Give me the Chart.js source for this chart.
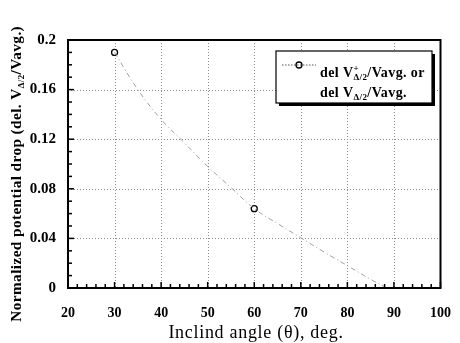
<!DOCTYPE html>
<html>
<head>
<meta charset="utf-8">
<script src="https://cdn.jsdelivr.net/npm/chart.js@4/dist/chart.umd.min.js"></script>
<style>
  html, body { margin: 0; padding: 0; background: #fff; }
  #wrap { width: 460px; height: 343px; position: relative; }
</style>
</head>
<body>
<div id="wrap"><canvas id="c"></canvas></div>
<script>
// measured points
const angles = [30, 60];
const drops = [0.19, 0.064];

// fitted curve
const fitAngles = [30, 35, 40, 45, 50, 55, 60, 65, 70, 75, 80, 85, 88];
const fitDrops = [0.19, 0.16, 0.136, 0.117, 0.098, 0.081, 0.064, 0.052, 0.0405, 0.029, 0.018, 0.007, 0.001];

const xTicks = [20, 30, 40, 50, 60, 70, 80, 90, 100];
const yTicks = [0, 0.04, 0.08, 0.12, 0.16, 0.2];

const SERIF = '"Liberation Serif", "DejaVu Serif", serif';

// draws text pieces: [text, 'n'|'sub'|'supsub'] starting at x, baseline y
function drawRich(ctx, parts, x, y, size, bold) {
  const w = bold ? 'bold ' : '';
  let cx = x;
  parts.forEach(p => {
    const [t, kind] = p;
    if (kind === 'n') {
      ctx.font = w + size + 'px ' + SERIF;
      ctx.fillText(t, cx, y);
      cx += ctx.measureText(t).width;
    } else if (kind === 'sub') {
      ctx.font = w + Math.round(size * 0.62) + 'px ' + SERIF;
      ctx.fillText(t, cx, y + size * 0.22);
      cx += ctx.measureText(t).width;
    } else if (kind === 'supsub') {
      ctx.font = w + Math.round(size * 0.62) + 'px ' + SERIF;
      ctx.fillText('+', cx, y - size * 0.42);
      ctx.fillText(t, cx, y + size * 0.22);
      cx += ctx.measureText(t).width;
    }
  });
  return cx - x;
}

function richWidth(ctx, parts, size, bold) {
  const w = bold ? 'bold ' : '';
  let total = 0;
  parts.forEach(p => {
    const small = p[1] !== 'n';
    ctx.font = w + (small ? Math.round(size * 0.62) : size) + 'px ' + SERIF;
    total += ctx.measureText(p[0]).width;
  });
  return total;
}

const decor = {
  id: 'decor',
  beforeDatasetsDraw(chart) {
    const { ctx, chartArea: a, scales: { x, y } } = chart;
    ctx.save();
    // dotted grid at major ticks
    ctx.strokeStyle = '#8a8a8a';
    ctx.lineWidth = 1;
    ctx.setLineDash([1, 2]);
    xTicks.slice(1, -1).forEach(v => {
      const px = Math.round(x.getPixelForValue(v)) + 0.5;
      ctx.beginPath(); ctx.moveTo(px, a.top); ctx.lineTo(px, a.bottom); ctx.stroke();
    });
    yTicks.slice(1, -1).forEach(v => {
      const py = Math.round(y.getPixelForValue(v)) + 0.5;
      ctx.beginPath(); ctx.moveTo(a.left, py); ctx.lineTo(a.right, py); ctx.stroke();
    });
    ctx.restore();
  },
  afterDatasetsDraw(chart) {
    const { ctx, chartArea: a, scales: { x, y } } = chart;
    ctx.save();
    ctx.setLineDash([]);
    ctx.strokeStyle = '#000';
    // inward ticks
    ctx.lineWidth = 1.5;
    for (let v = 20; v <= 100; v += 2) {
      const px = x.getPixelForValue(v);
      const len = v % 10 === 0 ? 6 : 4;
      ctx.beginPath(); ctx.moveTo(px, a.bottom); ctx.lineTo(px, a.bottom - len); ctx.stroke();
    }
    for (let i = 0; i <= 20; i++) {
      const py = y.getPixelForValue(i * 0.01);
      const len = i % 4 === 0 ? 6 : 4;
      ctx.beginPath(); ctx.moveTo(a.left, py); ctx.lineTo(a.left + len, py); ctx.stroke();
    }
    // frame
    ctx.lineWidth = 2;
    ctx.strokeRect(a.left, a.top, a.right - a.left, a.bottom - a.top);

    // legend box with shadow
    const bx = 276, by = 51, bw = 156, bh = 52;
    ctx.fillStyle = '#000';
    ctx.fillRect(bx + 3, by + 3, bw, bh);
    ctx.fillStyle = '#fff';
    ctx.fillRect(bx, by, bw, bh);
    ctx.lineWidth = 1.2;
    ctx.strokeRect(bx, by, bw, bh);
    ctx.strokeStyle = '#555';
    ctx.lineWidth = 1;
    ctx.setLineDash([1.5, 1.5]);
    ctx.beginPath(); ctx.moveTo(282, 65); ctx.lineTo(316, 65); ctx.stroke();
    ctx.setLineDash([]);
    ctx.strokeStyle = '#000';
    ctx.lineWidth = 1.3;
    ctx.beginPath(); ctx.arc(299, 65, 3, 0, Math.PI * 2); ctx.stroke();
    ctx.fillStyle = '#000';
    ctx.textBaseline = 'alphabetic';
    ctx.textAlign = 'left';
    ctx.letterSpacing = '0.4px';
    drawRich(ctx, [['del V', 'n'], ['\u0394/2', 'supsub'], ['/Vavg. or', 'n']], 320, 77, 14, true);
    drawRich(ctx, [['del V', 'n'], ['\u0394/2', 'sub'], ['/Vavg.', 'n']], 320, 97, 14, true);

    // x title
    ctx.letterSpacing = '0.7px';
    ctx.font = '18px ' + SERIF;
    ctx.textAlign = 'center';
    ctx.fillText('Inclind angle (\u03b8), deg.', 256, 338);

    // y title (rotated, with subscript)
    const yParts = [['Normalized potential drop (del. V', 'n'], ['\u0394/2', 'sub'], ['/Vavg.)', 'n']];
    ctx.letterSpacing = '0.4px';
    ctx.textAlign = 'left';
    const tw = richWidth(ctx, yParts, 15.3, true) + 0.4 * 44;
    ctx.translate(21, 165);
    ctx.rotate(-Math.PI / 2);
    drawRich(ctx, yParts, -tw / 2, 0, 15.3, true);
    ctx.restore();
  }
};

new Chart(document.getElementById('c'), {
  type: 'scatter',
  data: {
    datasets: [
      {
        label: 'fit',
        data: fitAngles.map((a, i) => ({ x: a, y: fitDrops[i] })),
        showLine: true,
        borderColor: '#a0a0a0',
        borderWidth: 1,
        borderDash: [5, 3, 1, 3],
        pointRadius: 0,
        tension: 0.4
      },
      {
        label: 'del V/Vavg.',
        data: angles.map((a, i) => ({ x: a, y: drops[i] })),
        showLine: false,
        pointRadius: 3,
        pointBorderWidth: 1.3,
        pointBorderColor: '#000',
        pointBackgroundColor: '#fff'
      }
    ]
  },
  options: {
    responsive: true,
    maintainAspectRatio: false,
    animation: false,
    layout: { padding: { left: 0, right: 11, top: 40, bottom: 0 } },
    plugins: { legend: { display: false }, tooltip: { enabled: false } },
    scales: {
      x: {
        type: 'linear', min: 20, max: 100,
        afterFit(s) { s.height = 55; },
        afterBuildTicks(s) { s.ticks = xTicks.map(v => ({ value: v })); },
        grid: { display: false },
        border: { display: false },
        ticks: { color: '#000', padding: 9, font: { family: SERIF, size: 14, weight: 'bold' } }
      },
      y: {
        type: 'linear', min: 0, max: 0.2,
        afterFit(s) { s.width = 68; },
        afterBuildTicks(s) { s.ticks = yTicks.map(v => ({ value: v })); },
        grid: { display: false },
        border: { display: false },
        ticks: {
          color: '#000', padding: 4,
          font: { family: SERIF, size: 15, weight: 'bold' },
          callback: v => String(Number(v.toFixed(2)))
        }
      }
    }
  },
  plugins: [decor]
});
</script>
</body>
</html>
